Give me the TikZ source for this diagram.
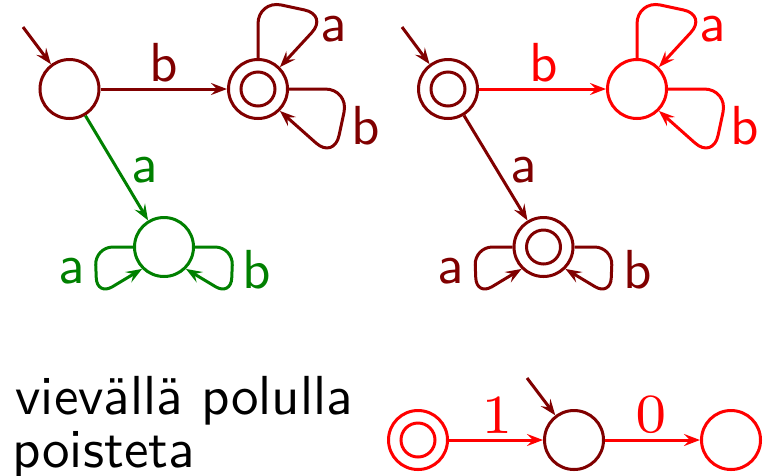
\documentclass[tikz,border=0pt]{standalone}
\usetikzlibrary{arrows.meta}
\definecolor{dred}{RGB}{128,0,0}
\definecolor{dgreen}{RGB}{0,128,0}
\definecolor{bred}{RGB}{255,0,0}
\newcommand\sflbl[1]{\scalebox{5.5}{\sffamily #1}}
\newcommand\rmlbl[1]{\scalebox{7.9}{\fontsize{7}{8}\selectfont\rmfamily #1}}
\begin{document}
\begin{tikzpicture}[x=1pt,y=-1pt,line width=3pt,
  >={Stealth[length=16pt,width=12pt,inset=6pt]},
  st/.style={circle,draw,minimum size=59pt,inner sep=0pt},
  acc/.style={st,path picture={\draw[line width=3pt] (path picture bounding box.center) circle (17pt);}},
  lab/.style={inner sep=0pt},
  bigloop/.style={->,rounded corners=24pt},
  smallloop/.style={->,rounded corners=18pt},
  txt/.style={inner sep=0pt,anchor=base west}]
\useasboundingbox (0,0) rectangle (767,475);

% ---- top-left automaton
\node[st,color=dred] (A) at (69.5,89) {};
\node[acc,color=dred] (B) at (258,89) {};
\node[st,color=dgreen] (C) at (164,247) {};
\coordinate (iA) at (23,27);
\draw[->,dred] (iA) -- (A);
\draw[->,dred] (A) -- (B);
\node[lab,dred] (lAB) at (164,63) {\sflbl{b}};
\draw[->,dgreen] (A) -- (C);
\node[lab,dgreen] (lAC) at (145,170) {\sflbl{a}};
\draw[bigloop,dred] (B.north) -- ++(0,-58) -- ++(70,15) -- (B.45);
\node[lab,dred] (lBa) at (334,29) {\sflbl{a}};
\draw[bigloop,dred] (B.east) -- ++(60,0) -- ++(-15,70) -- (B.-45);
\node[lab,dred] (lBb) at (366,126) {\sflbl{b}};
\draw[smallloop,dgreen] (C.west) -- ++(-38,0) -- ++(2,49) -- (C.-135);
\node[lab,dgreen] (lCa) at (72,271) {\sflbl{a}};
\draw[smallloop,dgreen] (C.east) -- ++(38,0) -- ++(-2,49) -- (C.-45);
\node[lab,dgreen] (lCb) at (257,270) {\sflbl{b}};

% ---- top-right automaton
\node[acc,color=dred] (D) at (448,89) {};
\node[st,color=bred] (E) at (637,89) {};
\node[acc,color=dred] (F) at (543.5,247) {};
\coordinate (iD) at (402,27);
\draw[->,dred] (iD) -- (D);
\draw[->,bred] (D) -- (E);
\node[lab,bred] (lDE) at (544,63) {\sflbl{b}};
\draw[->,dred] (D) -- (F);
\node[lab,dred] (lDF) at (524,170) {\sflbl{a}};
\draw[bigloop,bred] (E.north) -- ++(0,-58) -- ++(70,15) -- (E.45);
\node[lab,bred] (lEa) at (713,29) {\sflbl{a}};
\draw[bigloop,bred] (E.east) -- ++(60,0) -- ++(-15,70) -- (E.-45);
\node[lab,bred] (lEb) at (745,126) {\sflbl{b}};
\draw[smallloop,dred] (F.west) -- ++(-38,0) -- ++(2,49) -- (F.-135);
\node[lab,dred] (lFa) at (451,271) {\sflbl{a}};
\draw[smallloop,dred] (F.east) -- ++(38,0) -- ++(-2,49) -- (F.-45);
\node[lab,dred] (lFb) at (637.5,270) {\sflbl{b}};

% ---- bottom
\node[txt] (t1) at (14,414) {\sflbl{vievällä polulla}};
\node[txt] (t2) at (11,467) {\sflbl{poisteta}};
\node[acc,color=bred] (G) at (418,440) {};
\node[st,color=dred] (H) at (574,440) {};
\node[st,color=bred] (I) at (731,440) {};
\coordinate (iH) at (527,378);
\draw[->,dred] (iH) -- (H);
\draw[->,bred] (G) -- (H);
\node[lab,bred] (lGH) at (497,415) {\rmlbl{1}};
\draw[->,bred] (H) -- (I);
\node[lab,bred] (lHI) at (651,415) {\rmlbl{0}};
\end{tikzpicture}
\end{document}
